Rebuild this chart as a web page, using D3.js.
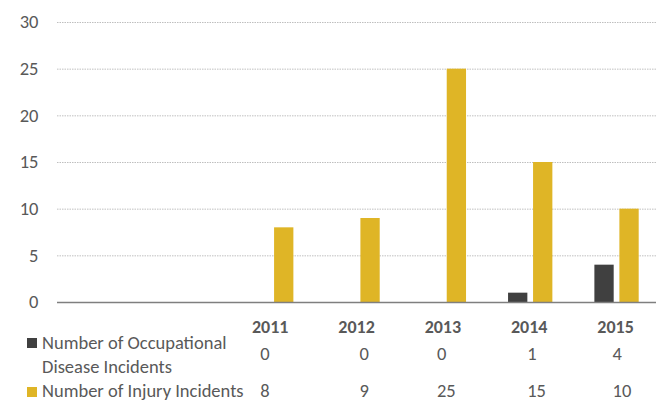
<!DOCTYPE html>
<html><head><meta charset="utf-8">
<script src="https://cdn.jsdelivr.net/npm/d3@7"></script>
<style>body{margin:0;background:#fff}svg{display:block}text{font-family:Carlito,Lato,"Open Sans",sans-serif}</style>
</head><body><svg id="c" width="656" height="403"></svg>
<script>
const categories = ["", "", "2011", "2012", "2013", "2014", "2015"];
const seriesNames = ["Number of Occupational Disease Incidents", "Number of Injury Incidents"];
const occupational = [null, null, 0, 0, 0, 1, 4];
const injury = [null, null, 8, 9, 25, 15, 10];
const yTicks = [0, 5, 10, 15, 20, 25, 30];
const colors = ["#404040", "#DFB526"];

// layout: left edge of table values relative to column centre (as rendered in the original)
const valueOffsets = [0, 0, -11, 2, -7, -3, -4];

const FS = 18.5;
const svg = d3.select("#c");
const x = d3.scaleBand().domain(d3.range(categories.length)).range([55.4, 659.7]).paddingInner(0).paddingOuter(0);
const y = d3.scaleLinear().domain([0, 30]).range([302, 22]);
const sub = d3.scaleBand().domain([0, 1]).range([0, x.bandwidth()]).paddingInner(0.228).paddingOuter(0.84);

// gridlines
svg.append("g").selectAll("line").data(yTicks.filter(d => d > 0)).join("line")
  .attr("x1", 57).attr("x2", 656).attr("y1", d => y(d) + 0.5).attr("y2", d => y(d) + 0.5)
  .attr("stroke", "#BFBFBF").attr("stroke-width", 1).attr("stroke-dasharray", "1.5,1");

// y axis labels
const yAxis = d3.axisLeft(y).tickValues(yTicks).tickSize(0).tickPadding(0);
const ya = svg.append("g").attr("transform", "translate(38.5,0)").call(yAxis);
ya.select(".domain").remove();
ya.selectAll("text").attr("font-size", FS).attr("fill", "#595959").attr("font-family", "Carlito,Lato,sans-serif");

// bars
const series = [occupational, injury];
series.forEach((vals, si) => {
  svg.append("g").selectAll("rect").data(vals.map((v, i) => ({v, i})).filter(d => d.v !== null && d.v > 0)).join("rect")
    .attr("x", d => x(d.i) + sub(si))
    .attr("width", sub.bandwidth())
    .attr("y", d => y(d.v))
    .attr("height", d => y(0) - y(d.v))
    .attr("fill", colors[si]);
});

// baseline
svg.append("line").attr("x1", 57).attr("x2", 656).attr("y1", 302.5).attr("y2", 302.5)
  .attr("stroke", "#7F7F7F").attr("stroke-width", 1.5);

// data table
const cx = i => x(i) + x.bandwidth() / 2;
svg.append("g").selectAll("text").data(categories.map((c, i) => ({c, i})).filter(d => d.c)).join("text")
  .attr("x", d => cx(d.i) - 1).attr("y", 333).attr("text-anchor", "middle")
  .attr("font-size", FS - 0.5).attr("font-weight", "bold").attr("fill", "#595959").text(d => d.c);
svg.append("g").selectAll("text").data(occupational.map((v, i) => ({v, i})).filter(d => d.v !== null)).join("text")
  .attr("x", d => cx(d.i) + valueOffsets[d.i]).attr("y", 360).attr("text-anchor", "start")
  .attr("font-size", FS).attr("fill", "#595959").text(d => d.v);
svg.append("g").selectAll("text").data(injury.map((v, i) => ({v, i})).filter(d => d.v !== null)).join("text")
  .attr("x", d => cx(d.i) + valueOffsets[d.i]).attr("y", 397).attr("text-anchor", "start")
  .attr("font-size", FS).attr("fill", "#595959").text(d => d.v);

// legend-like row labels
svg.append("rect").attr("x", 27).attr("y", 338).attr("width", 10).attr("height", 10).attr("fill", colors[0]);
svg.append("rect").attr("x", 27).attr("y", 387).attr("width", 10).attr("height", 10).attr("fill", colors[1]);
const t1 = svg.append("text").attr("x", 42).attr("font-size", FS).attr("fill", "#595959");
t1.append("tspan").attr("x", 42).attr("y", 349).text("Number of Occupational");
t1.append("tspan").attr("x", 42).attr("y", 373).text("Disease Incidents");
svg.append("text").attr("x", 42).attr("y", 397).attr("font-size", FS).attr("fill", "#595959").text(seriesNames[1]);
</script></body></html>
